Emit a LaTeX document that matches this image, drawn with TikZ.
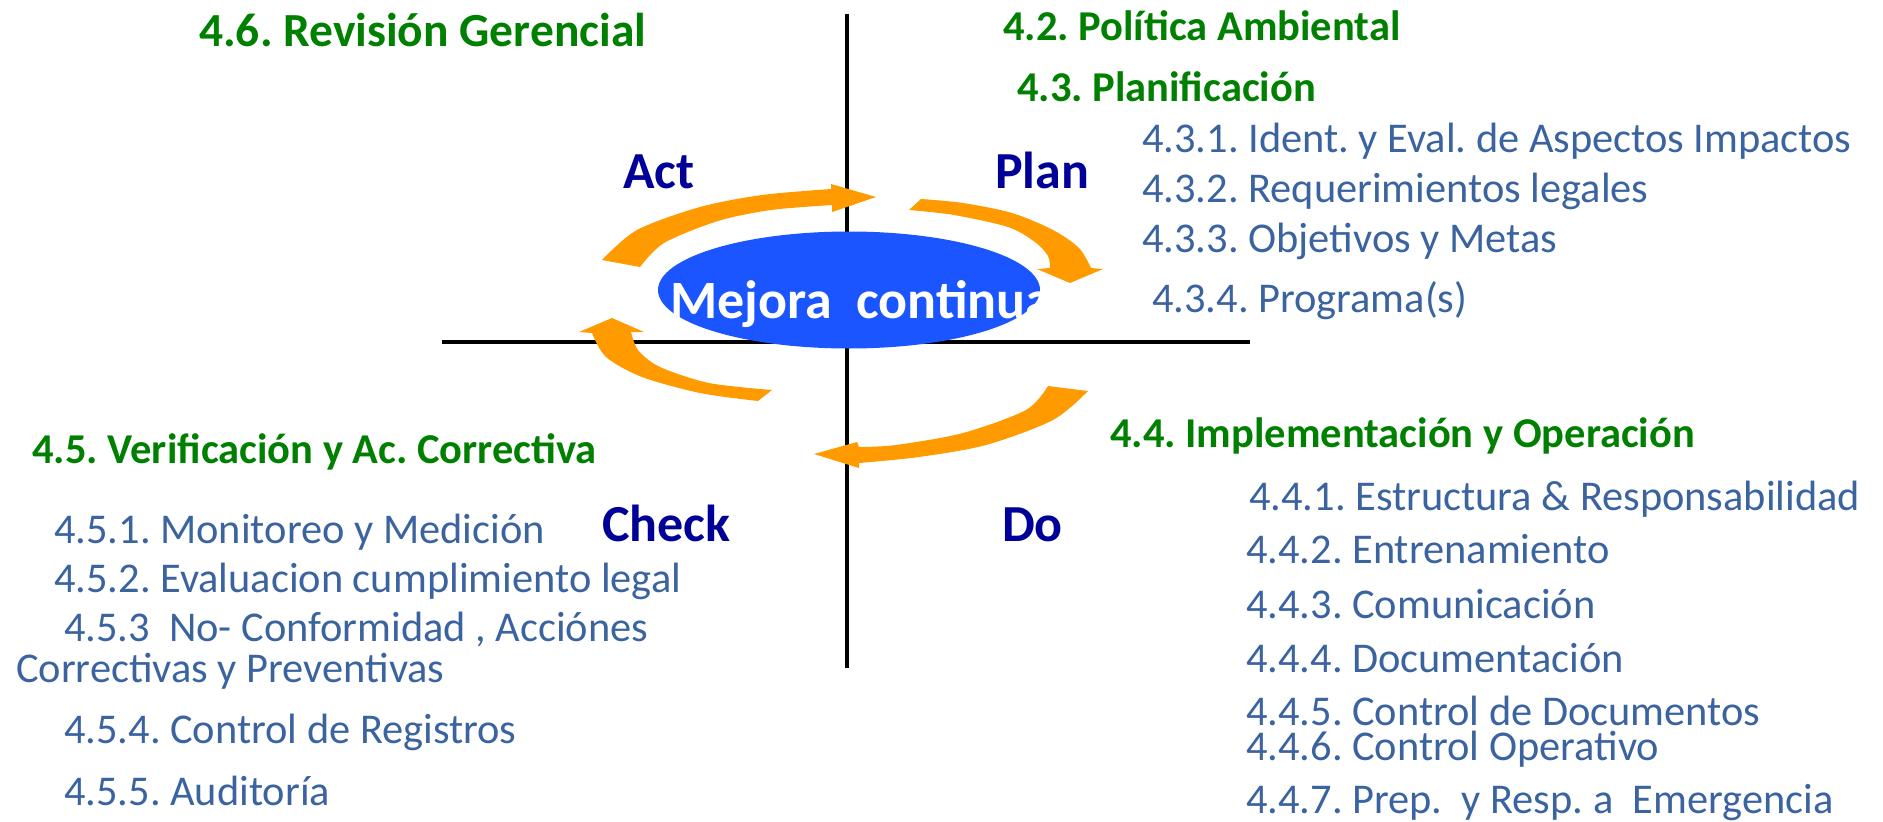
\documentclass[tikz,border=0pt]{standalone}
\usepackage{fontspec}
\setmainfont{Carlito}
\usepackage{tikz}
\usetikzlibrary{positioning}
\usetikzlibrary{shapes.geometric}
\definecolor{hgreen}{RGB}{0,128,0}
\definecolor{itblue}{RGB}{58,99,160}
\definecolor{phnavy}{RGB}{0,0,153}
\definecolor{arrorange}{RGB}{255,155,0}
\definecolor{mcblue}{RGB}{26,85,255}
\frenchspacing

\begin{document}
\begin{tikzpicture}[
      x=1pt,y=-1pt,
      headtxt/.style={anchor=base west,inner sep=0pt,text=hgreen,font=\fontsize{42.5}{51}\selectfont\bfseries},
      itemtxt/.style={anchor=base west,inner sep=0pt,text=itblue,font=\fontsize{42.4}{50}\selectfont},
      phasetxt/.style={anchor=base west,inner sep=0pt,text=phnavy,font=\fontsize{52}{62}\selectfont\bfseries},
      axisline/.style={draw=black,line width=4.5pt},
      arrfill/.style={fill=arrorange}
    ]
    \useasboundingbox (0,0) rectangle (1883,822);

    % cross
    \coordinate (vtop) at (847,14);
    \coordinate (vbot) at (847,668);
    \coordinate (hleft) at (442,342);
    \coordinate (hright) at (1250,342);
    \path[axisline] (vtop) -- (vbot);
    \path[axisline] (hleft) -- (hright);

    % cycle arrows
    \fill[arrfill] plot[smooth] coordinates {(602,260) (637,230) (700,207) (762,195) (831,189)}
      -- (831,184) -- (876,197) -- (832,212) -- (832,205)
      -- plot[smooth] coordinates {(832,205) (771,210) (718,221) (664,243) (640,267)} -- cycle;
    \fill[arrfill] plot[smooth] coordinates {(921,199) (963,203) (1012,213) (1053,230) (1079,248) (1091,268)}
      -- (1103,269) -- (1070,283) -- (1037,269) -- (1050,268)
      -- plot[smooth] coordinates {(1050,268) (1048,256) (1035,242) (1008,227) (954,215) (909,210)} -- cycle;
    \fill[arrfill] plot[smooth] coordinates {(1088,391) (1053,420) (986,445) (919,457) (859,463)}
      -- (859,468) -- (814,454) -- (857,442) -- (859,447)
      -- plot[smooth] coordinates {(859,447) (896,445) (963,433) (1026,410) (1048,386)} -- cycle;
    \fill[arrfill] plot[smooth] coordinates {(758,401) (700,393) (642,377) (606,357) (592,333)}
      -- (579,332) -- (612,318) -- (644,332) -- (631,332)
      -- plot[smooth] coordinates {(631,332) (638,350) (660,367) (709,383) (772,390)} -- cycle;

    \node[ellipse,fill=mcblue,minimum width=382pt,minimum height=117pt,inner sep=0pt] (mejora) at (849,290) {};
    \begin{scope}
      \clip (849,290) ellipse [x radius=191pt,y radius=58.5pt];
      \node[anchor=base west,inner sep=0pt,text=white,font=\fontsize{54}{65}\selectfont\bfseries] (mejoratxt) at (670,318) {Mejora\ \ continua};
    \end{scope}

    % phases
    \node[phasetxt] (act)   at (623,188)  {Act};
    \node[phasetxt] (plan)  at (995,188)  {Plan};
    \node[phasetxt] (check) at (602,541)  {Check};
    \node[phasetxt] (do)    at (1002,541) {Do};

    % clauses
    \node[headtxt,font=\fontsize{47.5}{57}\selectfont\bfseries] (revger) at (199,46) {4.6. Revisión Gerencial};
    \node[headtxt] (polamb) at (1003,40)  {4.2. Política Ambiental};
    \node[headtxt] (planif) at (1017,101) {4.3. Planificación};
    \node[headtxt] (implop) at (1110,447) {4.4. Implementación y Operación};
    \node[headtxt] (verif)  at (32,463)   {4.5. Verificación y Ac. Correctiva};

    \node[itemtxt] (planif1) at (1142,152) {4.3.1. Ident. y Eval. de Aspectos Impactos};
    \node[itemtxt] (planif2) at (1142,202) {4.3.2. Requerimientos legales};
    \node[itemtxt] (planif3) at (1142,252) {4.3.3. Objetivos y Metas};
    \node[itemtxt] (planif4) at (1152,312) {4.3.4. Programa(s)};

    \node[itemtxt] (verif1)  at (54,543)  {4.5.1. Monitoreo y Medición};
    \node[itemtxt] (verif2)  at (54,592)  {4.5.2. Evaluacion cumplimiento legal};
    \node[itemtxt] (verif3)  at (64,641)  {4.5.3\ \ No- Conformidad , Acciónes};
    \node[itemtxt] (verif3b) at (16,682)  {Correctivas y Preventivas};
    \node[itemtxt] (verif4)  at (64,743)  {4.5.4. Control de Registros};
    \node[itemtxt] (verif5)  at (64,805)  {4.5.5. Auditoría};

    \node[itemtxt] (implop1) at (1249,510) {4.4.1. Estructura \& Responsabilidad};
    \node[itemtxt] (implop2) at (1246,563) {4.4.2. Entrenamiento};
    \node[itemtxt] (implop3) at (1246,618) {4.4.3. Comunicación};
    \node[itemtxt] (implop4) at (1246,672) {4.4.4. Documentación};
    \node[itemtxt] (implop5) at (1246,725) {4.4.5. Control de Documentos};
    \node[itemtxt] (implop6) at (1246,760) {4.4.6. Control Operativo};
    \node[itemtxt] (implop7) at (1246,813) {4.4.7. Prep.\ \ y Resp. a\ \ Emergencia};
  \end{tikzpicture}
\end{document}
